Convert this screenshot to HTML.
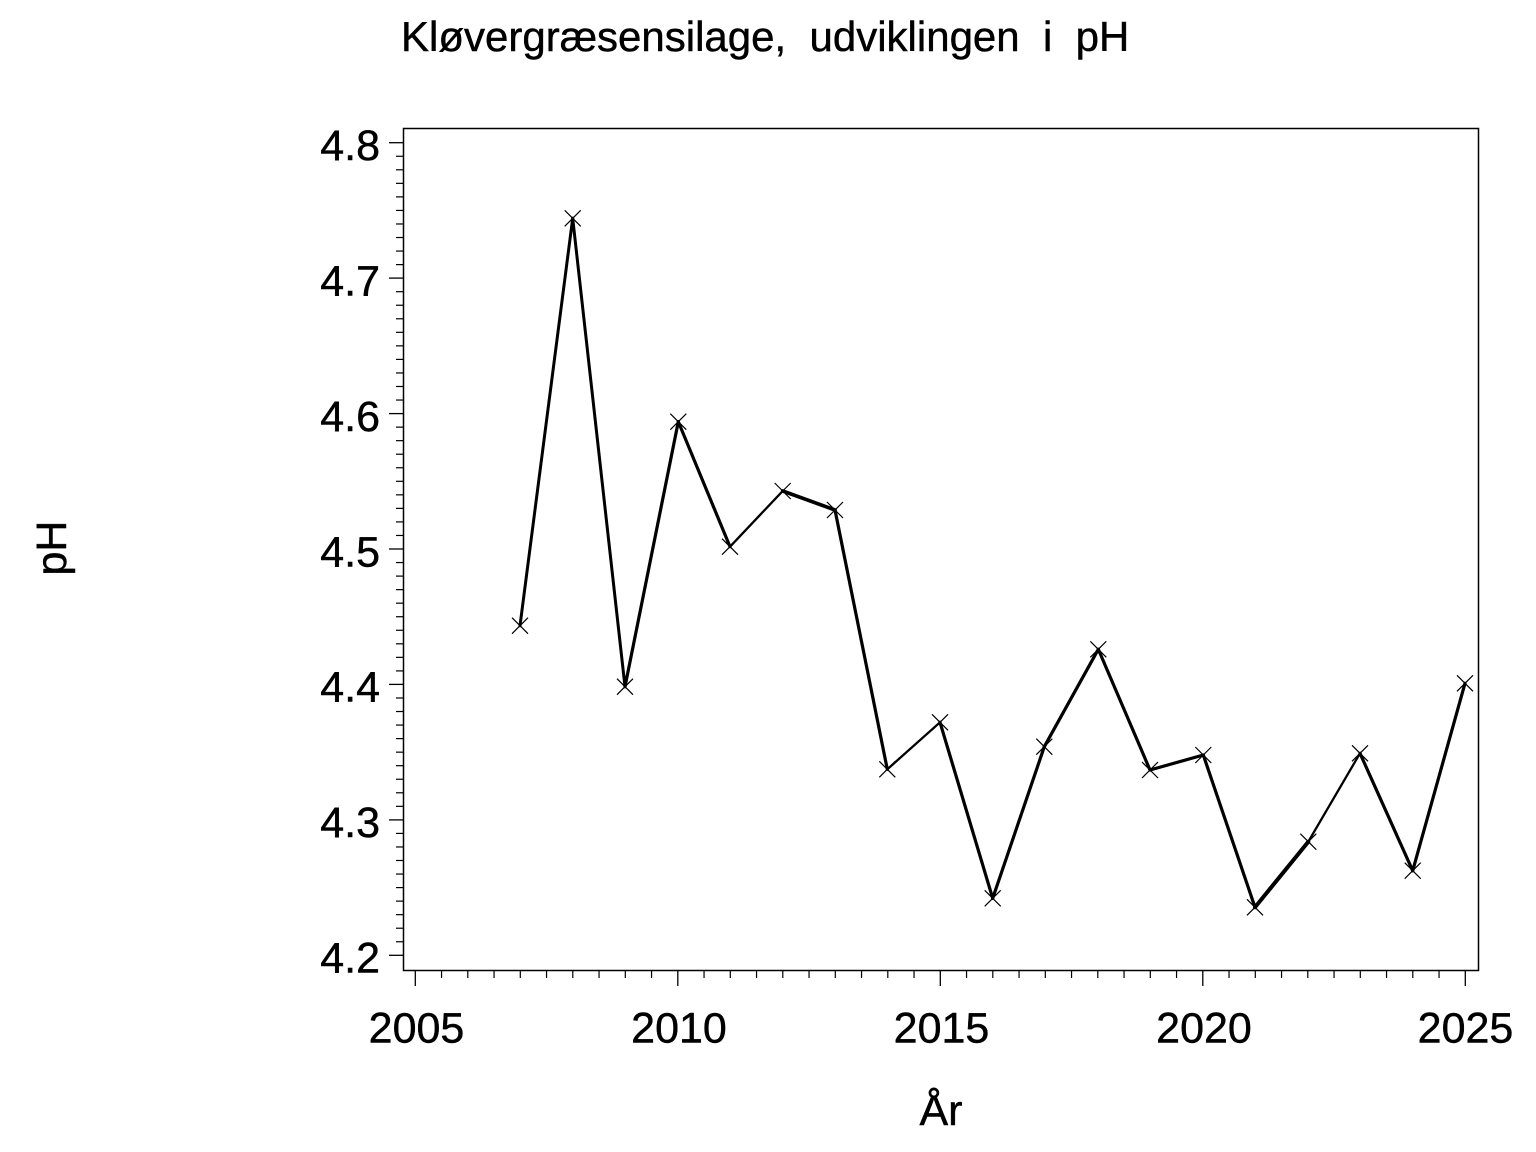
<!DOCTYPE html>
<html>
<head>
<meta charset="utf-8">
<style>
  html, body { margin:0; padding:0; background:#fff; }
  svg { display:block; }
  text { font-family: "Liberation Sans", Arial, sans-serif; fill:#000; stroke:#000; stroke-width:0.45px; }
</style>
</head>
<body>
<svg width="1536" height="1152" viewBox="0 0 1536 1152" xmlns="http://www.w3.org/2000/svg">
  <rect x="0" y="0" width="1536" height="1152" fill="#fff"/>

  <!-- Title -->
  <text x="401" y="51" font-size="42" style="white-space:pre">Kløvergræsensilage,  udviklingen  i  pH</text>

  <!-- Frame -->
  <rect x="403.5" y="128.5" width="1075" height="842" fill="none" stroke="#000" stroke-width="1.5"/>

  <!-- Y ticks -->
  <g stroke="#000" stroke-width="1.3">
    <line x1="389" y1="142.7" x2="403" y2="142.7"/>
    <line x1="389" y1="278.1" x2="403" y2="278.1"/>
    <line x1="389" y1="413.6" x2="403" y2="413.6"/>
    <line x1="389" y1="549.0" x2="403" y2="549.0"/>
    <line x1="389" y1="684.4" x2="403" y2="684.4"/>
    <line x1="389" y1="819.9" x2="403" y2="819.9"/>
    <line x1="389" y1="955.3" x2="403" y2="955.3"/>
  </g>
  <g stroke="#000" stroke-width="1.2" id="yminor"></g>

  <!-- X ticks -->
  <g stroke="#000" stroke-width="1.3">
    <line x1="415.3" y1="970" x2="415.3" y2="986"/>
    <line x1="677.8" y1="970" x2="677.8" y2="986"/>
    <line x1="940.3" y1="970" x2="940.3" y2="986"/>
    <line x1="1202.8" y1="970" x2="1202.8" y2="986"/>
    <line x1="1465.3" y1="970" x2="1465.3" y2="986"/>
  </g>
  <g stroke="#000" stroke-width="1.2" id="xminor"></g>

  <!-- Y tick labels -->
  <g font-size="43" text-anchor="end">
    <text x="380" y="160">4.8</text>
    <text x="380" y="295.4">4.7</text>
    <text x="380" y="430.9">4.6</text>
    <text x="380" y="566.3">4.5</text>
    <text x="380" y="701.7">4.4</text>
    <text x="380" y="837.2">4.3</text>
    <text x="380" y="972.6">4.2</text>
  </g>

  <!-- X tick labels -->
  <g font-size="43" text-anchor="middle">
    <text x="416.5" y="1042.7">2005</text>
    <text x="679" y="1042.7">2010</text>
    <text x="941.5" y="1042.7">2015</text>
    <text x="1204" y="1042.7">2020</text>
    <text x="1465.5" y="1042.7">2025</text>
  </g>

  <!-- Axis labels -->
  <text x="941" y="1125" font-size="43" text-anchor="middle">År</text>
  <text transform="translate(66,548) rotate(-90)" font-size="43" text-anchor="middle">pH</text>

  <!-- Series line segments -->
  <g stroke="#000" stroke-linecap="round" stroke-linejoin="round" fill="none">
    <line x1="520" y1="625.7" x2="572.7" y2="218.3" stroke-width="3"/>
    <line x1="572.7" y1="218.3" x2="625" y2="686.7" stroke-width="3"/>
    <line x1="625" y1="686.7" x2="678.3" y2="421.7" stroke-width="3.2"/>
    <line x1="678.3" y1="421.7" x2="730" y2="546.7" stroke-width="3.2"/>
    <line x1="730" y1="546.7" x2="782.7" y2="491" stroke-width="2.3"/>
    <line x1="782.7" y1="491" x2="835" y2="510" stroke-width="3.6"/>
    <line x1="835" y1="510" x2="887.3" y2="769.3" stroke-width="3.2"/>
    <line x1="887.3" y1="769.3" x2="940" y2="722.3" stroke-width="2.3"/>
    <line x1="940" y1="722.3" x2="992.7" y2="898.3" stroke-width="3.2"/>
    <line x1="992.7" y1="898.3" x2="1044.3" y2="746.7" stroke-width="3.2"/>
    <line x1="1044.3" y1="746.7" x2="1098.3" y2="649.3" stroke-width="3.2"/>
    <line x1="1098.3" y1="649.3" x2="1150" y2="770" stroke-width="3.2"/>
    <line x1="1150" y1="770" x2="1203.3" y2="755" stroke-width="3.2"/>
    <line x1="1203.3" y1="755" x2="1255" y2="907.3" stroke-width="3.2"/>
    <line x1="1255" y1="907.3" x2="1308.3" y2="841.7" stroke-width="4"/>
    <line x1="1308.3" y1="841.7" x2="1360" y2="753.3" stroke-width="2.3"/>
    <line x1="1360" y1="753.3" x2="1412.7" y2="870.7" stroke-width="3.2"/>
    <line x1="1412.7" y1="870.7" x2="1465" y2="683.3" stroke-width="3.2"/>
  </g>

  <!-- Markers -->
  <g stroke="#000" stroke-width="1.2" id="markers"></g>

  <script>
    var ns = "http://www.w3.org/2000/svg";
    function ln(g, x1, y1, x2, y2) {
      var l = document.createElementNS(ns, "line");
      l.setAttribute("x1", x1); l.setAttribute("y1", y1);
      l.setAttribute("x2", x2); l.setAttribute("y2", y2);
      g.appendChild(l);
    }
    var ym = document.getElementById("yminor");
    for (var i = 0; i <= 60; i++) {
      if (i % 10 === 0) continue;
      var y = 955.3 - i * 13.543;
      ln(ym, 396, y, 403, y);
    }
    var xm = document.getElementById("xminor");
    for (var j = 0; j <= 40; j++) {
      if (j % 10 === 0) continue;
      var x = 415.3 + j * 26.25;
      ln(xm, x, 970, x, 978);
    }
    var pts = [[520,625.7],[572.7,218.3],[625,686.7],[678.3,421.7],[730,546.7],[782.7,491],[835,510],
               [887.3,769.3],[940,722.3],[992.7,898.3],[1044.3,746.7],[1098.3,649.3],[1150,770],
               [1203.3,755],[1255,907.3],[1308.3,841.7],[1360,753.3],[1412.7,870.7],[1465,683.3]];
    var mk = document.getElementById("markers");
    var s = 8;
    pts.forEach(function(p){
      ln(mk, p[0]-s, p[1]-s, p[0]+s, p[1]+s);
      ln(mk, p[0]-s, p[1]+s, p[0]+s, p[1]-s);
    });
  </script>
</body>
</html>
